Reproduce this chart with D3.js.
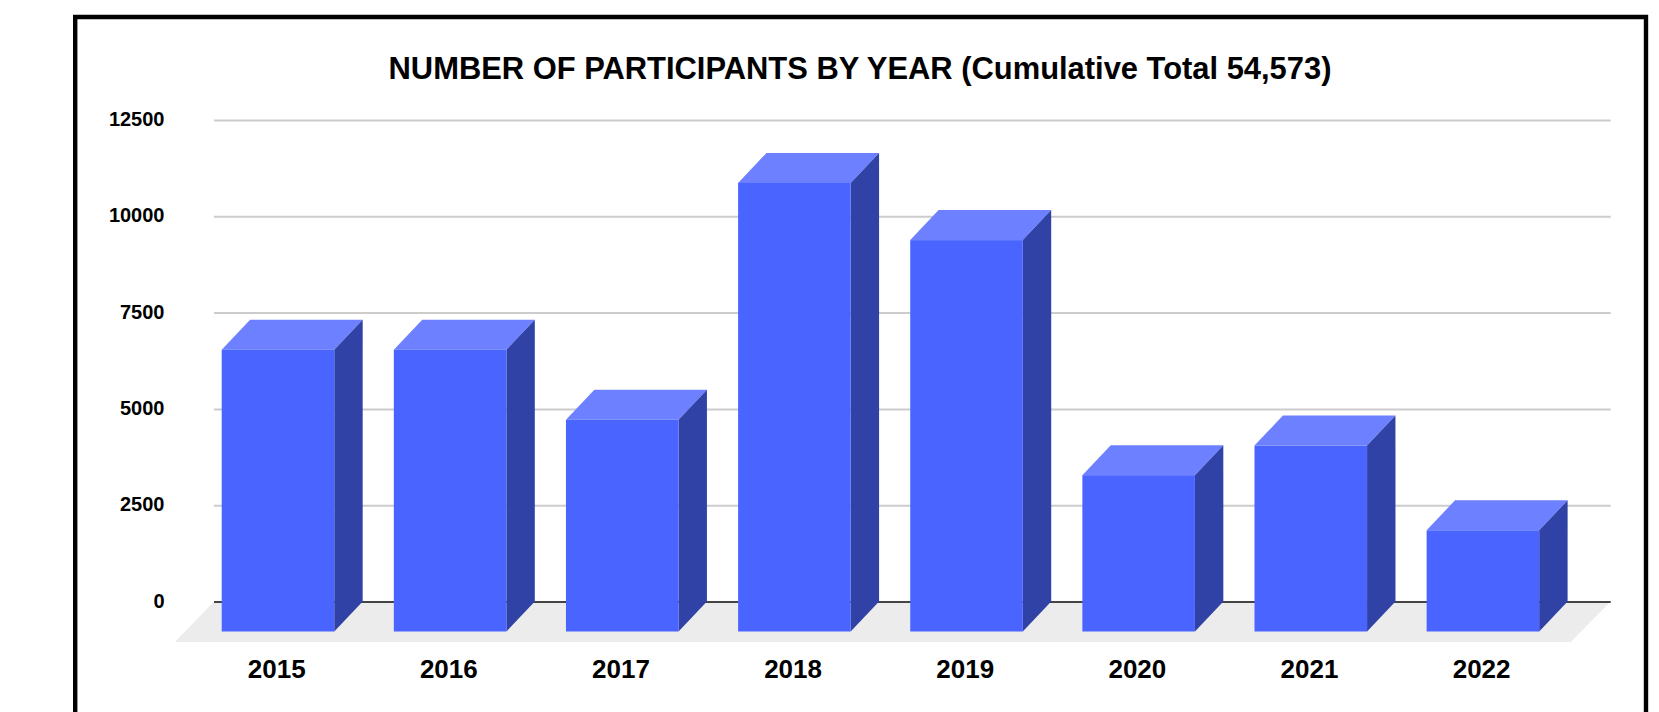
<!DOCTYPE html>
<html>
<head>
<meta charset="utf-8">
<script src="https://cdn.jsdelivr.net/npm/d3@7"></script>
<style>
html,body{margin:0;padding:0;background:#fff;overflow:hidden}
svg{display:block}
text{font-family:"Liberation Sans",Arial,sans-serif;font-weight:700;fill:#000}
</style>
</head>
<body>
<svg id="chart" width="1659" height="712"></svg>
<script>
const years = ["2015","2016","2017","2018","2019","2020","2021","2022"];
const participants = [7315,7315,5496,11645,10161,4058,4826,2627];
const yTicks = [0,2500,5000,7500,10000,12500];
const titleText = "NUMBER OF PARTICIPANTS BY YEAR (Cumulative Total 54,573)";

const svg = d3.select("#chart");
const depthX = 28.4, depthY = 30;
const gridLeft = 214, gridRight = 1610.7, y0 = 601.5, y1 = 120;

const y = d3.scaleLinear().domain([0,12500]).range([y0,y1]);
const x = d3.scaleBand().domain(years).range([221.7,1539.2]).paddingInner(0.346).paddingOuter(0);

// frame (bottom edge runs off the picture)
svg.append("path")
  .attr("d",`M75.2,712V17H1646V712`)
  .attr("fill","none").attr("stroke","#000").attr("stroke-width",4.4);

// title
svg.append("text").attr("x",860).attr("y",78.5).attr("text-anchor","middle")
  .style("font-size","30.9px").text(titleText);

// floor
const floorBottom = y0 + depthY + 10.5;
svg.append("path")
  .attr("d",d3.line()([[gridLeft,y0],[gridRight,y0],[gridRight-40,floorBottom],[gridLeft-39,floorBottom]])+"Z")
  .attr("fill","#ececec");

// value axis + gridlines
const yAxis = svg.append("g").attr("transform",`translate(${gridLeft},0)`)
  .call(d3.axisLeft(y).tickValues(yTicks).tickFormat(d3.format("d"))
    .tickSize(-(gridRight-gridLeft)).tickPadding(49.5));
yAxis.select(".domain").remove();
yAxis.selectAll(".tick line").attr("stroke",d=>d===0?"#444":"#ccc").attr("stroke-width",2);
yAxis.selectAll(".tick text").style("font-size","20px").style("font-family",'"Liberation Sans"').style("font-weight",700).attr("fill","#000").attr("dy","0.28em");

// bars
const bars = svg.selectAll("g.bar").data(years.map((k,i)=>({k,v:participants[i]}))).join("g").attr("class","bar");
const bw = x.bandwidth();
const line = d3.line();
bars.append("path") // top face
  .attr("fill","#6d80ff")
  .attr("d",d=>{const l=x(d.k),t=y(d.v);return line([[l,t+depthY],[l+bw,t+depthY],[l+bw+depthX,t],[l+depthX,t]])+"Z";});
bars.append("path") // side face
  .attr("fill","#3042a5")
  .attr("d",d=>{const l=x(d.k)+bw,t=y(d.v);return line([[l,t+depthY],[l+depthX,t],[l+depthX,y0],[l,y0+depthY]])+"Z";});
bars.append("rect") // front face
  .attr("fill","#4a65ff")
  .attr("x",d=>x(d.k)).attr("width",bw)
  .attr("y",d=>y(d.v)+depthY).attr("height",d=>y0-y(d.v));

// category axis
const xAxis = svg.append("g").attr("transform",`translate(-1.3,${y0+depthY+28.5})`)
  .call(d3.axisBottom(x).tickSize(0).tickPadding(0));
xAxis.select(".domain").remove();
xAxis.selectAll(".tick text").style("font-size","26px").style("font-family",'"Liberation Sans"').style("font-weight",700).attr("fill","#000");
</script>
</body>
</html>
